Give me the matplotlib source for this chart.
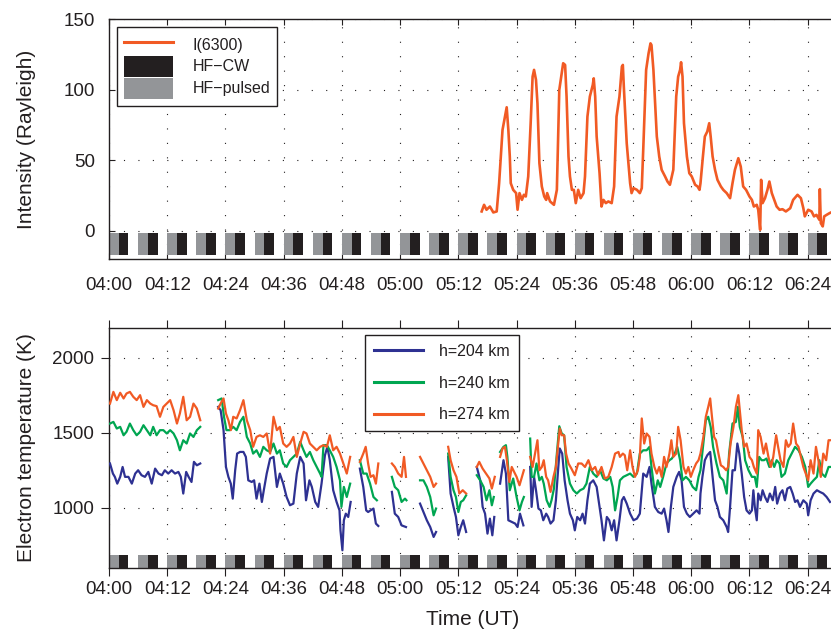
import numpy as np
import matplotlib.pyplot as plt
from matplotlib.lines import Line2D
from matplotlib.patches import Patch

plt.rcParams['font.family'] = ['Liberation Sans', 'DejaVu Sans']

nan = np.nan
DARK = '#231f20'
GREY = '#939598'
ORANGE = '#f15a24'
BLUE = '#2e3192'
GREEN = '#00a651'

# time axis in minutes after 04:00 UT
tick_pos = [0, 12, 24, 36, 48, 60, 72, 84, 96, 108, 120, 132, 144]
tick_labels = ["04:00", "04:12", "04:24", "04:36", "04:48", "05:00", "05:12",
               "05:24", "05:36", "05:48", "06:00", "06:12", "06:24"]

# HF heating cycle: 2 min pulsed, 2 min CW, 2 min off
pulsed_on = [0, 6, 12, 18, 24, 30, 36, 42, 48, 54, 60, 66, 72, 78, 84, 90,
             96, 102, 108, 114, 120, 126, 132, 138, 144]
cw_on = [2, 8, 14, 20, 26, 32, 38, 44, 50, 56, 62, 68, 74, 80, 86, 92,
         98, 104, 110, 116, 122, 128, 134, 140, 146]
hf_len = 2

# 630.0 nm airglow intensity
t_6300 = [76.8, 77.3, 77.8, 78.5, 79.2, 79.9, 80.4, 81.1, 81.6, 81.96, 82.3, 82.6, 82.8,
          83.3, 83.9, 84.2, 84.6, 85.1, 85.5, 85.9, 86.4, 86.9, 87.3, 87.6, 88.0, 88.3,
          88.7, 89.2, 89.7, 90.1, 90.3, 90.9, 91.7, 92.3, 92.8, 93.3, 93.6, 94.0, 94.3,
          94.7, 95.0, 95.4, 95.8, 96.2, 96.7, 97.2, 97.8, 98.1, 98.6, 99.1, 99.7, 99.9,
          100.2, 100.5, 101.1, 101.5, 101.9, 102.4, 102.9, 103.6, 104.1, 104.6, 105.2,
          105.7, 105.9, 106.1, 106.7, 107.4, 107.7, 108.1, 108.8, 109.4, 109.8, 110.1,
          110.7, 111.2, 111.6, 111.8, 112.2, 112.9, 113.4, 113.9, 114.6, 115.1, 115.6,
          116.3, 116.9, 117.3, 117.7, 117.9, 118.2, 118.5, 119.1, 119.6, 120.1, 120.8,
          121.3, 121.7, 121.9, 122.4, 122.8, 123.3, 123.7, 124.0, 124.4, 124.9, 125.4,
          126.1, 126.6, 127.3, 128.0, 128.5, 129.0, 129.7, 130.2, 130.7, 131.3, 132.0,
          132.5, 132.9, 133.5, 133.8, 134.2, 134.4, 134.7, 135.2, 135.7, 136.1, 136.6,
          137.1, 137.6, 138.2, 138.8, 139.5, 140.4, 141.0, 141.9, 142.6, 143.1, 143.4,
          144.1, 144.8, 145.3, 145.8, 146.4, 146.5, 146.7, 147.1, 147.4, 147.9, 148.5,
          148.8, 150.0]
i_6300 = [13.7, 18.4, 14.9, 17.2, 13.0, 13.7, 33.7, 71.5, 80.9, 87.5, 71.5, 52.6, 33.7,
          29.0, 26.7, 14.9, 26.7, 21.9, 25.5, 24.3, 38.5, 76.2, 109.2, 114.0, 106.9, 90.3,
          47.9, 31.4, 24.3, 21.9, 26.7, 20.8, 18.4, 29.0, 99.8, 111.6, 118.7, 117.5, 95.1,
          52.6, 38.5, 29.0, 29.0, 19.6, 29.0, 23.1, 26.7, 38.5, 80.9, 95.1, 103.3, 108.0,
          95.1, 66.8, 40.8, 17.2, 21.9, 19.6, 20.8, 19.6, 31.4, 80.9, 95.1,
          116.3, 117.5, 102.2, 62.0, 33.7, 26.7, 30.2, 29.0, 26.7, 30.2, 57.3,
          114.0, 125.7, 132.8, 131.6, 114.0, 66.8, 52.6, 43.2, 38.5, 34.9, 32.6,
          43.2, 95.1, 109.2, 114.0, 119.4, 109.2, 76.2, 52.6, 40.8, 38.5, 32.6,
          31.4, 29.0, 33.7, 52.6, 66.8, 70.3, 76.2, 66.8, 52.6, 43.2, 36.1,
          31.4, 29.0, 26.7, 23.1, 33.7, 43.2, 51.4, 45.5, 31.4, 29.0, 24.3,
          21.9, 17.2, 18.4, 14.9, 0.7, 36.1, 19.6, 23.1, 29.0, 34.9, 26.7,
          21.9, 17.2, 14.9, 15.3, 13.7, 16.0, 21.9, 25.5, 23.1, 16.0, 10.2,
          14.9, 13.7, 10.2, 11.3, 7.8, 29.5, 5.4, 3.1, 10.2, 11.3, 12.5,
          13.0, 13.7]

# electron temperature, h = 274 km (nan = no data)
t_274 = [0.2, 0.9, 1.6, 2.3, 3.0, 3.6, 4.3, 5.0, 5.7, 6.4, 7.1, 7.8, 8.5, 9.1, 9.8, 10.5,
         11.2, 11.9, 12.6, 13.3, 14.0, 14.6, 15.3, 16.0, 16.7, 17.4, 18.1, 18.8, nan,
         22.5, 23.0, 23.6, 24.1, 24.6, 25.1, 25.6, 26.3, 27.0, 27.7, 28.4, 29.1, 29.7,
         30.4, 31.1, 31.8, 32.5, 33.2, 33.9, 34.6, 35.2, 35.9, 36.6, 37.3, 38.0, 38.7,
         39.4, 40.1, 40.7, 41.4, 42.1, 42.8, 43.5, 44.2, 44.9, 45.5, 46.2, 46.9, 47.6,
         48.3, 49.0, 49.7, nan,
         51.7, 52.4, 52.9, 53.4, 53.9, 54.5, 55.0, 55.5, nan,
         58.3, 58.9, 59.6, 60.3, 60.8, 61.2, nan,
         64.1, 64.8, 65.5, 66.2, 66.9, 67.4, nan,
         69.9, 70.4, 71.0, 71.6, 72.2, 72.9, 73.6, nan,
         75.8, 76.3, 77.0, 77.7, 78.4, 78.9, 79.5, nan,
         80.6, 81.1, 81.6, 82.0, 82.5, 83.0, 83.5, 84.0, 84.6, 85.1, 85.5, nan,
         86.8, 87.3, 87.8, 88.3, 88.7, 89.2, 89.6, 90.1, 90.5, 91.0, 91.6, 92.1, 92.6,
         92.9, 93.3, 93.8, 94.2, 94.7, 95.3, 96.0, 96.7, 97.4, 98.1, 98.8, 99.5, 100.2,
         100.8, 101.5, 102.2, 102.9, 103.6, 104.3, 105.0, 105.3, 105.9, 106.3, 106.8,
         107.4, 107.9, 108.4, 109.0, 109.4, 109.8, 110.3, 110.8, 111.4, 111.8, 112.4,
         112.9, 113.4, 113.9, 114.4, 114.9, 115.5, 115.9, 116.3, 116.9, 117.3, 117.8,
         118.4, 118.9, 119.4, 119.9, 120.4, 121.0, 121.5, 121.9, 122.5, 123.0, 123.5,
         123.9, 124.2, 124.7, 125.1, 125.6, 126.1, 126.6, 127.2, 127.6, 128.1, 128.7,
         129.2, 129.7, 130.0, 130.4, 130.9, 131.4, 132.0, 132.5, 132.9, 133.5, 133.8,
         134.3, 134.9, 135.4, 135.9, 136.4, 136.9, 137.5, 137.9, 138.4, 139.0, 139.5,
         140.0, 140.5, 141.0, 141.6, 142.1, 142.6, 143.1, 143.6, 144.1, 144.6, 145.2,
         145.7, 146.2, 146.7, 147.2, 147.8, 148.3, 148.7]
te_274 = [1695, 1773, 1718, 1767, 1729, 1762, 1773, 1740, 1718, 1751, 1673, 1718, 1695,
          1684, 1678, 1607, 1673, 1695, 1718, 1651, 1562, 1629, 1740, 1584, 1607, 1695,
          1662, 1584, nan,
          1662, 1695, 1729, 1629, 1584, 1518, 1607, 1596, 1651, 1718, 1584, 1518, 1407,
          1473, 1484, 1473, 1496, 1362, 1607, 1518, 1540, 1429, 1407, 1429, 1473, 1340,
          1429, 1507, 1496, 1429, 1407, 1384, 1407, 1418, 1407, 1484, 1384, 1407, 1362,
          1296, 1229, 1340, nan,
          1307, 1362, 1407, 1296, 1207, 1218, 1162, 1296, nan,
          1296, 1273, 1229, 1207, 1340, 1207, nan,
          1340, 1296, 1251, 1207, 1140, 1162, nan,
          1407, 1318, 1251, 1207, 1096, 1118, 1096, nan,
          1273, 1307, 1262, 1229, 1196, 1129, 1207, nan,
          1340, 1396, 1407, 1318, 1173, 1273, 1240, 1207, 1151, 1207, 1251, nan,
          1340, 1273, 1362, 1451, 1251, 1273, 1318, 1207, 1184, 1107, 1207, 1273, 1429,
          1529, 1484, 1484, 1362, 1296, 1262, 1218, 1296, 1296, 1273, 1318, 1251, 1273,
          1218, 1273, 1196, 1207, 1273, 1362, 1373, 1340, 1362, 1351, 1251, 1384, 1273,
          1207, 1251, 1340, 1596, 1429, 1496, 1473, 1362, 1273, 1229, 1273, 1207, 1340,
          1273, 1362, 1451, 1340, 1362, 1540, 1451, 1273, 1229, 1273, 1207, 1251, 1296,
          1318, 1362, 1473, 1607, 1673, 1729, 1629, 1473, 1451, 1362, 1284, 1273, 1251,
          1273, 1429, 1540, 1673, 1751, 1651, 1518, 1407, 1429, 1340, 1318, 1273, 1229,
          1518, 1473, 1362, 1429, 1340, 1273, 1340, 1484, 1407, 1318, 1273, 1451, 1407,
          1429, 1562, 1429, 1407, 1340, 1273, 1229, 1184, 1318, 1229, 1407, 1318, 1207,
          1362, 1318, 1451, 1451]

# electron temperature, h = 240 km
t_240 = [0.2, 0.9, 1.6, 2.3, 3.0, 3.6, 4.3, 5.0, 5.7, 6.4, 7.1, 7.8, 8.5, 9.1, 9.8, 10.5,
         11.2, 11.9, 12.6, 13.3, 14.0, 14.6, 15.3, 16.0, 16.7, 17.4, 18.1, 18.8, nan,
         22.5, 23.2, 23.7, 24.2, 24.9, 25.6, 26.3, 27.0, 27.7, 28.4, 29.1, 29.7, 30.4,
         31.1, 31.8, 32.5, 33.2, 33.9, 34.6, 35.2, 35.9, 36.6, 37.3, 38.0, 38.7, 39.4,
         40.1, 40.7, 41.4, 42.1, 42.8, 43.5, 43.8, 44.2, 44.9, 45.5, 46.2, 46.9, 47.6,
         47.9, 48.4, 49.0, 49.7, nan,
         51.7, 52.4, 53.1, 53.8, 54.5, 55.2, nan,
         58.3, 58.9, 59.6, 60.3, 61.0, 61.3, nan,
         64.1, 64.8, 65.5, 66.2, 66.9, 67.4, nan,
         69.9, 70.4, 71.0, 71.5, 72.0, 72.5, 73.0, 73.6, nan,
         75.8, 76.5, 77.2, 77.8, 78.4, 78.9, 79.3, nan,
         80.6, 81.3, 81.8, 82.1, 82.6, 83.3, 84.0, 84.6, 85.1, 85.5, nan,
         86.8, 87.1, 87.6, 88.1, 88.7, 89.2, 89.6, 90.2, 90.8, 91.2, 91.7, 92.3, 92.8,
         93.3, 93.8, 94.3, 95.0, 95.7, 96.4, 97.1, 97.8, 98.4, 99.1, 99.8, 100.5, 101.2,
         101.9, 102.6, 103.3, 103.8, 104.3, 104.8, 105.3, 106.0, 106.7, 107.4, 108.1,
         108.8, 109.4, 110.1, 110.8, 111.4, 111.8, 112.5, 113.1, 113.6, 114.2, 114.9,
         115.5, 116.0, 116.6, 117.1, 117.7, 118.2, 118.9, 119.6, 120.3, 121.0, 121.5,
         121.9, 122.5, 123.0, 123.5, 124.0, 124.5, 125.2, 125.9, 126.6, 127.3, 127.8,
         128.5, 129.2, 129.6, 130.0, 130.6, 131.1, 131.8, 132.5, 133.1, 133.5, 134.0,
         134.5, 135.0, 135.5, 136.1, 136.6, 137.1, 137.6, 138.2, 138.6, 139.3, 140.0,
         140.7, 141.4, 142.1, 142.8, 143.5, 144.1, 144.6, 145.2, 145.9, 146.4, 146.9,
         147.6, 148.3, 148.7]
te_240 = [1562, 1573, 1529, 1540, 1484, 1507, 1562, 1518, 1484, 1507, 1551, 1518, 1484,
          1540, 1484, 1518, 1518, 1496, 1518, 1496, 1451, 1384, 1451, 1429, 1496, 1473,
          1518, 1540, nan,
          1718, 1729, 1607, 1518, 1518, 1540, 1518, 1573, 1607, 1473, 1429, 1362, 1384,
          1340, 1407, 1384, 1373, 1429, 1362, 1384, 1296, 1273, 1318, 1340, 1362, 1440,
          1384, 1340, 1373, 1318, 1273, 1229, 1207, 1418, 1418, 1384, 1340, 1273, 1184,
          1007, 1140, 1073, 1162, nan,
          1318, 1229, 1229, 1162, 1073, 1051, nan,
          1207, 1140, 1118, 1040, 1062, 1051, nan,
          1184, 1184, 1140, 1073, 951, 996, nan,
          1362, 1207, 1118, 1073, 973, 1040, 1051, 1084, nan,
          1218, 1184, 1140, 1051, 1118, 1018, 1073, nan,
          1373, 1407, 1418, 1340, 1118, 1196, 1073, 984, 1040, 1073, nan,
          1462, 1207, 1207, 1296, 1184, 1207, 1162, 1051, 1007, 1051, 1129, 1362, 1544,
          1496, 1484, 1273, 1162, 1118, 1096, 1118, 1129, 1162, 1273, 1229, 1207, 1251,
          1196, 1184, 1207, 1140, 984, 1073, 1184, 1207, 1218, 1229, 1207, 1229, 1362,
          1384, 1384, 1407, 1273, 1096, 1184, 1140, 1207, 1296, 1318, 1329, 1362, 1407,
          1318, 1184, 1207, 1184, 1140, 1118, 1207, 1251, 1429, 1584, 1607, 1540, 1407,
          1296, 1207, 1184, 1096, 1362, 1562, 1573, 1673, 1540, 1473, 1318, 1251, 1207,
          1207, 1140, 1340, 1318, 1318, 1329, 1273, 1318, 1273, 1318, 1296, 1207, 1229,
          1318, 1362, 1407, 1384, 1340, 1273, 1140, 1162, 1184, 1207, 1318, 1229, 1207,
          1273, 1273]

# electron temperature, h = 204 km
t_204 = [0.2, 0.8, 1.2, 1.7, 2.3, 2.8, 3.3, 4.0, 4.7, 5.4, 6.0, 6.7, 7.4, 8.1, 8.8, 9.5,
         10.2, 10.9, 11.5, 12.2, 12.9, 13.6, 14.3, 14.8, 15.3, 15.9, 16.4, 17.0, 17.5,
         18.1, 18.8, nan,
         22.5, 23.0, 23.6, 24.1, 24.6, 25.1, 25.5, 26.0, 26.4, 27.0, 27.7, 28.2, 28.7,
         29.4, 29.9, 30.4, 31.0, 31.5, 31.9, 32.5, 33.2, 33.9, 34.6, 35.2, 35.9, 36.6,
         37.3, 38.0, 38.7, 39.4, 40.1, 40.6, 41.3, 41.8, 42.5, 43.1, 43.8, 44.5, 45.0,
         45.5, 46.2, 46.9, 47.5, 47.7, 48.1, 48.4, 48.8, 49.3, 49.8, nan,
         51.7, 52.4, 53.0, 53.4, 53.9, 54.5, 55.0, 55.5, nan,
         58.3, 58.9, 59.6, 60.3, 61.2, nan,
         64.1, 64.8, 65.5, 66.2, 66.9, 67.4, nan,
         69.9, 70.4, 71.0, 71.5, 72.0, 72.5, 73.0, 73.6, nan,
         75.8, 76.5, 77.0, 77.5, 78.0, 78.5, 79.0, 79.4, nan,
         80.6, 81.3, 81.8, 82.3, 83.0, 83.7, 84.2, 84.7, 85.4, nan,
         86.8, 87.1, 87.6, 88.0, 88.5, 89.0, 89.5, 90.1, 90.5, 91.0, 91.6, 92.1, 92.6,
         92.9, 93.4, 93.9, 94.5, 95.0, 95.6, 96.0, 96.5, 97.1, 97.6, 98.1, 98.6, 99.1,
         99.8, 100.5, 101.1, 101.5, 102.0, 102.6, 103.1, 103.6, 104.1, 104.6, 105.2,
         105.7, 106.1, 106.7, 107.4, 108.1, 108.8, 109.4, 110.1, 110.8, 111.4, 111.8,
         112.5, 113.2, 113.9, 114.4, 114.9, 115.3, 115.8, 116.3, 117.0, 117.5, 118.0,
         118.5, 119.1, 119.7, 120.4, 121.1, 121.7, 121.9, 122.3, 122.8, 123.3, 123.9,
         124.4, 124.9, 125.4, 125.9, 126.6, 127.3, 127.6, 128.0, 128.5, 129.0, 129.5,
         129.9, 130.4, 130.9, 131.4, 132.0, 132.5, 132.8, 133.1, 133.5, 133.8, 134.3,
         134.7, 135.2, 135.7, 136.2, 136.8, 137.3, 137.7, 138.3, 138.8, 139.3, 139.8,
         140.4, 140.9, 141.4, 141.9, 142.4, 143.1, 143.8, 144.1, 144.6, 145.2, 145.9,
         146.5, 147.2, 147.9, 148.6]
te_204 = [1296, 1229, 1207, 1162, 1207, 1273, 1207, 1207, 1162, 1229, 1251, 1218, 1207,
          1240, 1162, 1262, 1229, 1218, 1251, 1229, 1251, 1229, 1240, 1207, 1096, 1240,
          1207, 1173, 1307, 1284, 1296, nan,
          1673, 1651, 1518, 1273, 1207, 1162, 1062, 1251, 1362, 1373, 1373, 1340, 1184,
          1173, 1184, 1062, 1162, 1040, 1118, 1229, 1329, 1340, 1140, 1229, 1162, 1073,
          1018, 1029, 1229, 1340, 1296, 1051, 1184, 1140, 1040, 1007, 1162, 1351, 1407,
          1318, 1118, 1040, 984, 851, 718, 918, 962, 940, 1040, nan,
          1262, 1140, 984, 973, 984, 996, 896, 880, nan,
          1107, 962, 940, 884, 873, nan,
          1029, 973, 918, 873, 807, 840, nan,
          1340, 1096, 1007, 940, 818, 873, 918, 840, nan,
          1273, 1184, 1007, 962, 829, 929, 818, 940, nan,
          1162, 1318, 1229, 918, 907, 896, 873, 962, 884, nan,
          1273, 1007, 1207, 1118, 996, 984, 918, 962, 940, 896, 918, 1051, 1273,
          1396, 1362, 1184, 1051, 962, 918, 851, 940, 918, 962, 896, 1051, 1162,
          1184, 1140, 1007, 918, 784, 940, 918, 851, 918, 784, 918, 1051, 1073,
          1029, 962, 918, 929, 962, 1229, 1207, 1273, 1162, 1007, 973, 962, 996,
          918, 840, 1007, 1140, 1207, 1240, 1184, 1007, 962, 940, 962, 984, 962,
          1096, 1207, 1318, 1351, 1373, 1207, 1051, 1007, 940, 918, 873, 840, 1007,
          1251, 1251, 1429, 1362, 1229, 1073, 984, 962, 984, 1118, 1007, 918, 1096,
          1051, 1118, 1073, 1040, 1096, 1051, 1140, 1029, 1096, 1118, 1051, 1129,
          1140, 1096, 1040, 1051, 1007, 1051, 1029, 951, 1051, 1096, 1118, 1107, 1096,
          1073, 1040]

fig = plt.figure(figsize=(8.31, 6.31), dpi=100)
ax1 = fig.add_axes([0.1312, 0.5895, 0.8758, 0.3803])
ax2 = fig.add_axes([0.1312, 0.0998, 0.8758, 0.3808])

dots = (0, (1, 12))

# top panel: intensity
ax1.bar(pulsed_on, 16, bottom=-17.5, width=hf_len, align='edge', color=GREY, lw=0, zorder=2)
ax1.bar(cw_on, 16, bottom=-17.5, width=hf_len, align='edge', color=DARK, lw=0, zorder=2)
ax1.plot(t_6300, i_6300, color=ORANGE, lw=1.9, zorder=3)
ax1.set_xlim(0, 150)
ax1.set_ylim(-20, 150)
ax1.set_yticks([0, 50, 100, 150])
ax1.set_xticks(tick_pos)
ax1.set_xticklabels(tick_labels)
ax1.tick_params(direction='in', top=True, right=True, length=4.5, width=0.8,
                colors=DARK, labelsize=13.5)
ax1.tick_params(axis='x', pad=13)
ax1.tick_params(axis='y', pad=10)
ax1.grid(True, linestyle=dots, color=DARK, lw=0.8)
ax1.set_ylabel('Intensity (Rayleigh)', fontsize=15, color=DARK)
ax1.yaxis.set_label_coords(-0.1, 0.5)

h1 = [Line2D([], [], color=ORANGE, lw=2.2),
      Patch(facecolor=DARK, edgecolor='none'),
      Patch(facecolor=GREY, edgecolor='none')]
leg1 = ax1.legend(h1, ['I(6300)', 'HF\u2212CW', 'HF\u2212pulsed'], loc='upper left',
                  bbox_to_anchor=(0.1404, 0.9577), bbox_transform=fig.transFigure,
                  borderaxespad=0, fontsize=11.5, handlelength=3.1, handleheight=1.65,
                  handletextpad=1.2, labelspacing=0.05, borderpad=0.45,
                  fancybox=False, framealpha=1, edgecolor=DARK, labelcolor=DARK)
leg1.get_frame().set_linewidth(1.0)

# bottom panel: electron temperature
ax2.bar(pulsed_on, 85, bottom=600, width=hf_len, align='edge', color=GREY, lw=0, zorder=2)
ax2.bar(cw_on, 85, bottom=600, width=hf_len, align='edge', color=DARK, lw=0, zorder=2)
ax2.plot(t_204, te_204, color=BLUE, lw=1.6, zorder=3, label='h=204 km')
ax2.plot(t_240, te_240, color=GREEN, lw=1.6, zorder=3, label='h=240 km')
ax2.plot(t_274, te_274, color=ORANGE, lw=1.6, zorder=3, label='h=274 km')
ax2.set_xlim(0, 150)
ax2.set_ylim(600, 2200)
ax2.set_yticks([1000, 1500, 2000])
ax2.set_xticks(tick_pos)
ax2.set_xticklabels(tick_labels)
ax2.tick_params(direction='out', top=True, right=True, length=5.5, width=0.8,
                colors=DARK, labelsize=13.5)
ax2.tick_params(axis='x', pad=4)
ax2.tick_params(axis='y', pad=5)
ax2.grid(True, linestyle=dots, color=DARK, lw=0.8)
ax2.set_ylabel('Electron temperature (K)', fontsize=15, color=DARK)
ax2.yaxis.set_label_coords(-0.1, 0.5)
ax2.set_xlabel('Time (UT)', fontsize=15, color=DARK)
ax2.xaxis.set_label_coords(0.5, -0.175)

leg2 = ax2.legend(loc='upper left', bbox_to_anchor=(0.4392, 0.4691),
                  bbox_transform=fig.transFigure, borderaxespad=0, fontsize=11.5,
                  handlelength=3.1, handletextpad=1.0, labelspacing=1.05,
                  borderpad=0.55, fancybox=False, framealpha=1, edgecolor=DARK,
                  labelcolor=DARK)
leg2.get_frame().set_linewidth(1.0)
for ln in leg2.get_lines():
    ln.set_linewidth(2.2)

for ax in (ax1, ax2):
    for sp in ax.spines.values():
        sp.set_color(DARK)
        sp.set_linewidth(1.0)

fig.savefig('out.png', dpi=100)
